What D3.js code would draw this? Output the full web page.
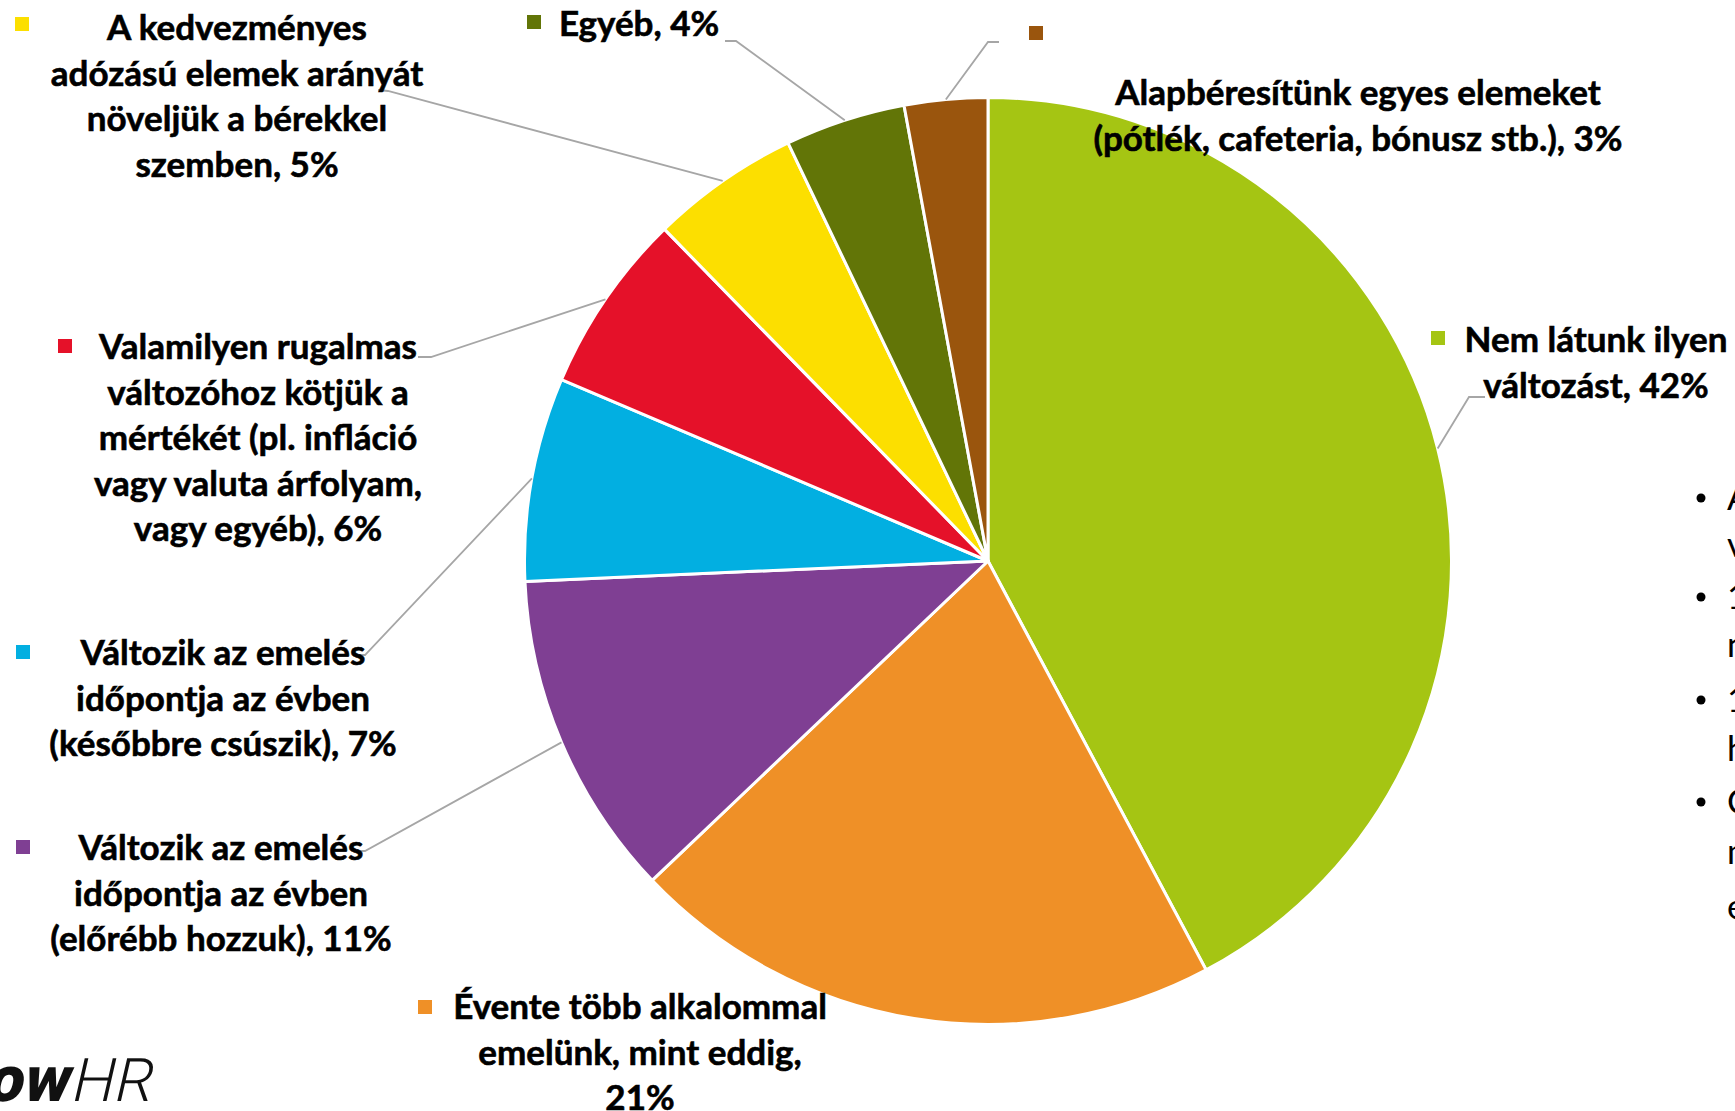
<!DOCTYPE html>
<html><head><meta charset="utf-8">
<script src="https://cdn.jsdelivr.net/npm/d3@7"></script>
<style>
html,body{margin:0;padding:0;background:#fff;overflow:hidden}
svg{display:block}
</style></head><body>
<svg id="chart" width="1735" height="1111"></svg>
<script>
// ---- data ----
const categories = [
  "Nem látunk ilyen\nváltozást",
  "Évente több alkalommal\nemelünk, mint eddig",
  "Változik az emelés\nidőpontja az évben\n(előrébb hozzuk)",
  "Változik az emelés\nidőpontja az évben\n(későbbre csúszik)",
  "Valamilyen rugalmas\nváltozóhoz kötjük a\nmértékét (pl. infláció\nvagy valuta árfolyam,\nvagy egyéb)",
  "A kedvezményes\nadózású elemek arányát\nnöveljük a bérekkel\nszemben",
  "Egyéb",
  "Alapbéresítünk egyes elemeket\n(pótlék, cafeteria, bónusz stb.)"
];
const values = [42.2, 20.7, 11.4, 7.1, 6.3, 5.2, 4.2, 2.9];
const colors = ["#A5C513", "#EF9027", "#7F3F93", "#02AFE1", "#E51129", "#FCDF00", "#627507", "#9A550D"];
const sideNotes = [
  {bullet: true,  text: "A válaszadók többsége nem lát"},
  {bullet: false, text: "változást a béremelésben"},
  {bullet: true,  text: "1/5-ük évente több alkalommal"},
  {bullet: false, text: "növeli a béreket"},
  {bullet: true,  text: "11% előrébb hozza az emelés"},
  {bullet: false, text: "határidejét"},
  {bullet: true,  text: "Csak kevesen kötik a"},
  {bullet: false, text: "mértéket külső"},
  {bullet: false, text: "elemekhez"}
];
const logoParts = ["flow", "HR"];

// ---- layout ----
const W = 1735, H = 1111;
const cx = 988, cy = 561, R = 463.5;
const lineH = 45.5;
const FONT = "Lato, 'Open Sans', sans-serif";
const labelLayout = [
  {x: 1596, y: 340, marker: [1438, 338], pctBreak: false, hook: [[1485, 397], [1469, 397]]},
  {x: 640,  y: 1007, marker: [425, 1007], pctBreak: true, hook: null},
  {x: 221,  y: 848, marker: [23, 847], pctBreak: false, hook: [[354, 851], [365, 851]]},
  {x: 223,  y: 653, marker: [23, 652], pctBreak: false, hook: [[354, 655], [365, 655]]},
  {x: 258,  y: 347, marker: [65, 346], pctBreak: false, hook: [[418, 357], [431, 357]]},
  {x: 237,  y: 28,  marker: [22, 24], pctBreak: false, hook: [[378, 90], [388, 91]]},
  {x: 639,  y: 24,  marker: [534, 22], pctBreak: false, hook: [[725, 41], [736, 41]]},
  {x: 1358, y: 93,  marker: [1036, 33], pctBreak: false, hook: [[999, 42], [988, 42]]}
];

const svg = d3.select("#chart");
svg.append("rect").attr("width", W).attr("height", H).attr("fill", "#fff");

const pie = d3.pie().sort(null).value(d => d).startAngle(0).endAngle(2 * Math.PI);
const arcs = pie(values);
const arc = d3.arc().innerRadius(0).outerRadius(R);
const color = d3.scaleOrdinal().domain(d3.range(values.length)).range(colors);

const g = svg.append("g").attr("transform", `translate(${cx},${cy})`);
g.selectAll("path.slice").data(arcs).join("path")
  .attr("class", "slice")
  .attr("d", arc)
  .attr("fill", (d, i) => color(i))
  .attr("stroke", "#fff")
  .attr("stroke-width", 3)
  .attr("stroke-linejoin", "round");

// leader lines
const edgePoint = d => {
  const a = (d.startAngle + d.endAngle) / 2;
  return [cx + R * Math.sin(a), cy - R * Math.cos(a)];
};
const lineGen = d3.line();
const leaders = arcs.map((d, i) => ({d, L: labelLayout[i]})).filter(o => o.L.hook);
svg.append("g").selectAll("path.leader").data(leaders).join("path")
  .attr("class", "leader")
  .attr("d", o => lineGen([...o.L.hook, edgePoint(o.d)]))
  .attr("fill", "none")
  .attr("stroke", "#A6A6A6")
  .attr("stroke-width", 1.8);

// labels
const fmt = d3.format(".0f");
const lab = svg.append("g");
arcs.forEach((d, i) => {
  const L = labelLayout[i];
  const pct = fmt(d.data) + "%";
  const text = categories[i] + (L.pctBreak ? ",\n" : ", ") + pct;
  const lines = text.split("\n");
  const t = lab.append("text")
    .attr("font-family", FONT)
    .attr("font-weight", 700)
    .attr("font-size", 35)
    .attr("fill", "#000")
    .attr("stroke", "#000")
    .attr("stroke-width", 0.6)
    .attr("text-anchor", "middle");
  lines.forEach((ln, k) => {
    t.append("tspan").attr("x", L.x).attr("y", L.y + k * lineH).attr("dy", "0.35em").text(ln);
  });
  lab.append("rect")
    .attr("x", L.marker[0] - 7).attr("y", L.marker[1] - 7)
    .attr("width", 14).attr("height", 14)
    .attr("fill", color(i));
});

// side notes (clipped at right edge)
const notes = svg.append("g").attr("font-family", FONT).attr("font-size", 35).attr("fill", "#000");
const noteY = [498, 545, 597, 645, 700, 749, 802, 852, 907];
sideNotes.forEach((n, i) => {
  if (n.bullet) notes.append("circle").attr("cx", 1701).attr("cy", noteY[i]).attr("r", 4.5).attr("fill", "#000");
  notes.append("text").attr("x", 1727).attr("y", noteY[i]).attr("dy", "0.35em").text(n.text);
});

// logo (slanted)
const logoG = svg.append("g").attr("transform", "translate(150,1101) skewX(-13)");
const logo = logoG.append("text")
  .attr("x", 0).attr("y", 0)
  .attr("text-anchor", "end")
  .attr("font-family", "Roboto, 'Open Sans', sans-serif")
  .attr("fill", "#111");
logo.append("tspan").attr("font-weight", 900).attr("font-size", 64).text(logoParts[0]);
logo.append("tspan").attr("font-weight", 300).attr("font-size", 60).attr("dx", 2).text(logoParts[1]);
</script>
</body></html>
